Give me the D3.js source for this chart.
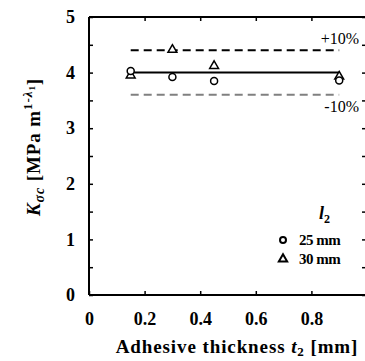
<!DOCTYPE html>
<html><head><meta charset="utf-8">
<script src="https://cdn.jsdelivr.net/npm/d3@7"></script>
<style>body{margin:0;background:#fff}svg{display:block}</style>
</head><body>
<svg id="c" width="365" height="361"></svg>
<script>
const xTicks = [0, 0.2, 0.4, 0.6, 0.8];
const yTicks = [0, 1, 2, 3, 4, 5];
const t25 = [0.15, 0.3, 0.45, 0.9];
const k25 = [4.03, 3.92, 3.85, 3.86];
const t30 = [0.15, 0.3, 0.45, 0.9];
const k30 = [3.95, 4.41, 4.12, 3.93];
const meanK = 4.0;
const bandX = [0.15, 0.9];
const bandLabels = ["+10%", "-10%"];
const legendItems = ["25 mm", "30 mm"];

const svg = d3.select("#c");
const font = "'Liberation Serif', 'DejaVu Serif', serif";
const x = d3.scaleLinear().domain([0, 1]).range([89, 367]);
const y = d3.scaleLinear().domain([0, 5]).range([295, 17]);

// frame
const g = svg.append("g");
g.append("line").attr("x1", x(0)).attr("x2", x(1)).attr("y1", y(0)).attr("y2", y(0)).attr("stroke", "#000").attr("stroke-width", 2);
g.append("line").attr("x1", x(0)).attr("x2", x(1)).attr("y1", y(5)).attr("y2", y(5)).attr("stroke", "#000").attr("stroke-width", 2);
g.append("line").attr("x1", x(0)).attr("x2", x(0)).attr("y1", y(0)).attr("y2", y(5)).attr("stroke", "#000").attr("stroke-width", 2);
g.append("line").attr("x1", x(1)).attr("x2", x(1)).attr("y1", y(0)).attr("y2", y(5)).attr("stroke", "#000").attr("stroke-width", 2);

// axes with inward ticks
const minorY = d3.range(0, 5.01, 0.5);
const ax = svg.append("g").attr("transform", `translate(0,${y(0)})`)
  .call(d3.axisBottom(x).tickValues(xTicks).tickSizeInner(-4).tickSizeOuter(0).tickPadding(17).tickFormat(d => d === 0 ? "0" : d3.format(".1f")(d)));
ax.select(".domain").remove();
ax.selectAll("line").attr("stroke-width", 1.5);
ax.selectAll("text").attr("font-family", font).attr("font-size", 18).attr("font-weight", "bold").attr("fill", "#000");

const axT = svg.append("g").attr("transform", `translate(0,${y(5)})`)
  .call(d3.axisTop(x).tickValues(xTicks.slice(1)).tickSizeInner(-4).tickSizeOuter(0).tickFormat(""));
axT.select(".domain").remove();
axT.selectAll("line").attr("stroke-width", 1.5);

const ay = svg.append("g").attr("transform", `translate(${x(0)},0)`)
  .call(d3.axisLeft(y).tickValues(minorY).tickSizeInner(-4).tickSizeOuter(0).tickPadding(14).tickFormat(d => Number.isInteger(d) ? d : ""));
ay.select(".domain").remove();
ay.selectAll("line").attr("stroke-width", 1.5);
ay.selectAll("text").attr("font-family", font).attr("font-size", 18).attr("font-weight", "bold").attr("fill", "#000");

const ayR = svg.append("g").attr("transform", `translate(${x(1)},0)`)
  .call(d3.axisRight(y).tickValues(minorY).tickSizeInner(-5).tickSizeOuter(0).tickFormat(""));
ayR.select(".domain").remove();
ayR.selectAll("line").attr("stroke-width", 1.5);

// reference lines
svg.append("line").attr("x1", x(bandX[0])).attr("x2", x(bandX[1])).attr("y1", y(meanK)).attr("y2", y(meanK))
  .attr("stroke", "#000").attr("stroke-width", 2);
svg.append("line").attr("x1", x(bandX[0])).attr("x2", x(bandX[1])).attr("y1", y(meanK * 1.1)).attr("y2", y(meanK * 1.1))
  .attr("stroke", "#000").attr("stroke-width", 2).attr("stroke-dasharray", "8,5");
svg.append("line").attr("x1", x(bandX[0])).attr("x2", x(bandX[1])).attr("y1", y(meanK * 0.9)).attr("y2", y(meanK * 0.9))
  .attr("stroke", "#808080").attr("stroke-width", 2).attr("stroke-dasharray", "8,5");
svg.append("text").attr("x", 359).attr("y", y(meanK * 1.1) - 6).attr("text-anchor", "end")
  .attr("font-family", font).attr("font-size", 16).text(bandLabels[0]);
svg.append("text").attr("x", 359).attr("y", y(meanK * 0.9) + 17).attr("text-anchor", "end")
  .attr("font-family", font).attr("font-size", 16).text(bandLabels[1]);

// markers
const tri = d3.symbol().type(d3.symbolTriangle).size(34);
t30.forEach((t, i) => {
  svg.append("path").attr("d", tri).attr("transform", `translate(${x(t)},${y(k30[i])})`)
    .attr("fill", "#fff").attr("stroke", "#000").attr("stroke-width", 1.5);
});
t25.forEach((t, i) => {
  svg.append("circle").attr("cx", x(t)).attr("cy", y(k25[i])).attr("r", 3.5)
    .attr("fill", "#fff").attr("stroke", "#000").attr("stroke-width", 1.5);
});

// legend
const lt = svg.append("text").attr("x", 319).attr("y", 219).attr("font-family", font).attr("font-size", 18).attr("font-weight", "bold").attr("font-style", "italic");
lt.append("tspan").text("l");
lt.append("tspan").attr("font-size", 12).attr("dy", 4).attr("font-style", "normal").text("2");
svg.append("circle").attr("cx", 283).attr("cy", 240).attr("r", 3).attr("fill", "#fff").attr("stroke", "#000").attr("stroke-width", 2);
svg.append("path").attr("d", d3.symbol().type(d3.symbolTriangle).size(30)).attr("transform", "translate(283,259)")
  .attr("fill", "#fff").attr("stroke", "#000").attr("stroke-width", 2);
svg.append("text").attr("x", 299).attr("y", 245).attr("font-family", font).attr("font-size", 15).attr("font-weight", "bold").attr("letter-spacing", -0.5).text(legendItems[0]);
svg.append("text").attr("x", 299).attr("y", 264).attr("font-family", font).attr("font-size", 15).attr("font-weight", "bold").attr("letter-spacing", -0.5).text(legendItems[1]);

// axis titles
const xt = svg.append("text").attr("x", 237).attr("y", 353).attr("text-anchor", "middle").attr("font-family", font)
  .attr("font-size", 19).attr("font-weight", "bold").attr("letter-spacing", 0.9);
xt.append("tspan").text("Adhesive thickness ");
xt.append("tspan").attr("font-style", "italic").text("t");
xt.append("tspan").attr("font-size", 13).attr("dy", 3).text("2");
xt.append("tspan").attr("dy", -3).text(" [mm]");

const yt = svg.append("text").attr("transform", "translate(40,147) rotate(-90)").attr("text-anchor", "middle")
  .attr("font-family", font).attr("font-size", 19).attr("font-weight", "bold").attr("letter-spacing", 0.9);
yt.append("tspan").attr("font-style", "italic").text("K");
yt.append("tspan").attr("font-size", 14).attr("dy", 4).attr("font-style", "italic").text("σc");
yt.append("tspan").attr("dy", -4).text(" [MPa m");
yt.append("tspan").attr("font-size", 13).attr("dy", -8).text("1-");
yt.append("tspan").attr("font-size", 13).attr("font-style", "italic").text("λ");
yt.append("tspan").attr("font-size", 9).attr("dy", 3).text("1");
yt.append("tspan").attr("dy", 5).text("]");
</script>
</body></html>
